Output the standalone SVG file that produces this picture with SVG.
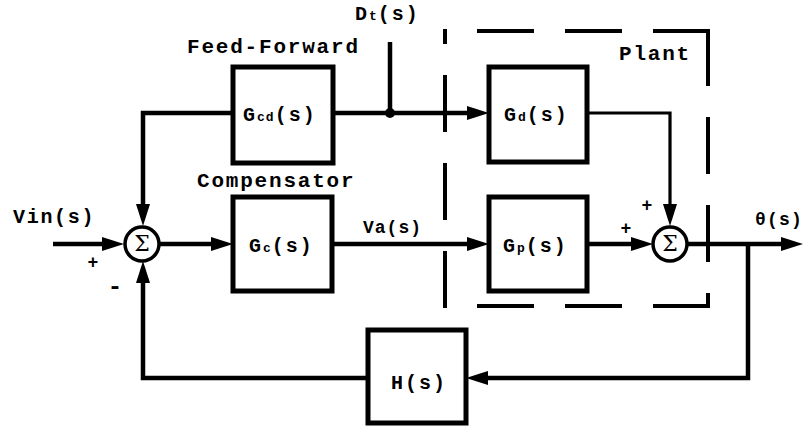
<svg xmlns="http://www.w3.org/2000/svg" width="803" height="435" viewBox="0 0 803 435">
<style>
.box{fill:#fff;stroke:#000;stroke-width:5}
.ln{fill:none;stroke:#000;stroke-width:4.5}
.thin{fill:none;stroke:#000;stroke-width:3.2}
.sum{fill:#fff;stroke:#000;stroke-width:3.5}
.dash{fill:none;stroke:#000;stroke-width:4;stroke-dasharray:53 35;stroke-linecap:square}
.t{font-family:"Liberation Mono","Courier New",monospace;font-weight:bold;fill:#000}
.lbl{font-size:21px;letter-spacing:1.8px}
.bl{font-size:20px;letter-spacing:2px}
.sub{font-size:13px;letter-spacing:1px}
.sg{font-family:"DejaVu Serif","Liberation Serif",serif;font-size:22px;fill:#000;text-anchor:middle}
.pm{font-family:"Liberation Mono",monospace;font-weight:bold;font-size:18px;text-anchor:middle}
</style>
<defs>
<marker id="ah" markerUnits="userSpaceOnUse" markerWidth="22" markerHeight="14" refX="12" refY="7" orient="auto">
<path d="M0,0 L22,7 L0,14 z" fill="#000"/>
</marker>
</defs>
<rect width="803" height="435" fill="#fff"/>
<g id="plant-boundary">
<line class="dash" x1="708" y1="31" x2="445" y2="31"/>
<line class="dash" x1="708" y1="31" x2="708" y2="306"/>
<line class="dash" x1="708" y1="306" x2="445" y2="306"/>
<line class="dash" x1="445" y1="306" x2="445" y2="31"/>
<text class="t lbl" x="619" y="60">Plant</text>
</g>
<g id="connectors">
<line class="ln" x1="53" y1="244" x2="114" y2="244" marker-end="url(#ah)"/>
<line class="ln" x1="159" y1="244" x2="223" y2="244" marker-end="url(#ah)"/>
<line class="ln" x1="332" y1="244" x2="479" y2="244" marker-end="url(#ah)"/>
<line class="ln" x1="333" y1="113" x2="479" y2="113" marker-end="url(#ah)"/>
<line class="ln" x1="390" y1="42" x2="390" y2="113"/>
<circle cx="390" cy="113" r="5" fill="#000"/>
<path class="ln" d="M233,113 H143 V216" marker-end="url(#ah)"/>
<path class="thin" d="M587,113 H670 V216" marker-end="url(#ah)"/>
<line class="ln" x1="587" y1="244" x2="643" y2="244" marker-end="url(#ah)"/>
<line class="ln" x1="687" y1="244" x2="793" y2="244" marker-end="url(#ah)"/>
<path class="ln" d="M748,244 V378 H476" marker-end="url(#ah)"/>
<path class="ln" d="M368,378 H143 V271" marker-end="url(#ah)"/>
</g>
<g id="sum1">
<circle class="sum" cx="142" cy="244" r="17"/>
<text class="sg" x="142" y="251">Σ</text>
</g>
<g id="sum2">
<circle class="sum" cx="670" cy="244" r="17"/>
<text class="sg" x="670" y="251">Σ</text>
</g>
<g id="Gcd">
<rect class="box" x="233" y="67" width="100" height="96"/>
<text class="t bl" x="243" y="121">G<tspan class="sub">cd</tspan>(s)</text>
</g>
<g id="Gd">
<rect class="box" x="489" y="67" width="98" height="95"/>
<text class="t bl" x="504" y="121">G<tspan class="sub">d</tspan>(s)</text>
</g>
<g id="Gc">
<rect class="box" x="233" y="197" width="99" height="94"/>
<text class="t bl" x="249" y="252">G<tspan class="sub">c</tspan>(s)</text>
</g>
<g id="Gp">
<rect class="box" x="489" y="197" width="98" height="94"/>
<text class="t bl" x="503" y="252">G<tspan class="sub">p</tspan>(s)</text>
</g>
<g id="H">
<rect class="box" x="368" y="330" width="98" height="93"/>
<text class="t bl" x="391" y="389">H(s)</text>
</g>
<g id="labels">
<text class="t lbl" x="187" y="53">Feed-Forward</text>
<text class="t lbl" x="197" y="187">Compensator</text>
<text class="t" style="font-size:20px;letter-spacing:1.7px" x="13" y="223">Vin(s)</text>
<text class="t" style="font-size:18px;letter-spacing:1px" x="363" y="233">Va(s)</text>
<text class="t" style="font-size:18px;letter-spacing:1.2px" x="755" y="225">θ(s)</text>
<text class="t bl" x="355" y="20">D<tspan class="sub">t</tspan>(s)</text>
<text class="pm" x="93" y="268">+</text>
<text class="pm" style="font-size:24px" x="115" y="294">-</text>
<text class="pm" x="647" y="211">+</text>
<text class="pm" x="626" y="234">+</text>
</g>
</svg>
